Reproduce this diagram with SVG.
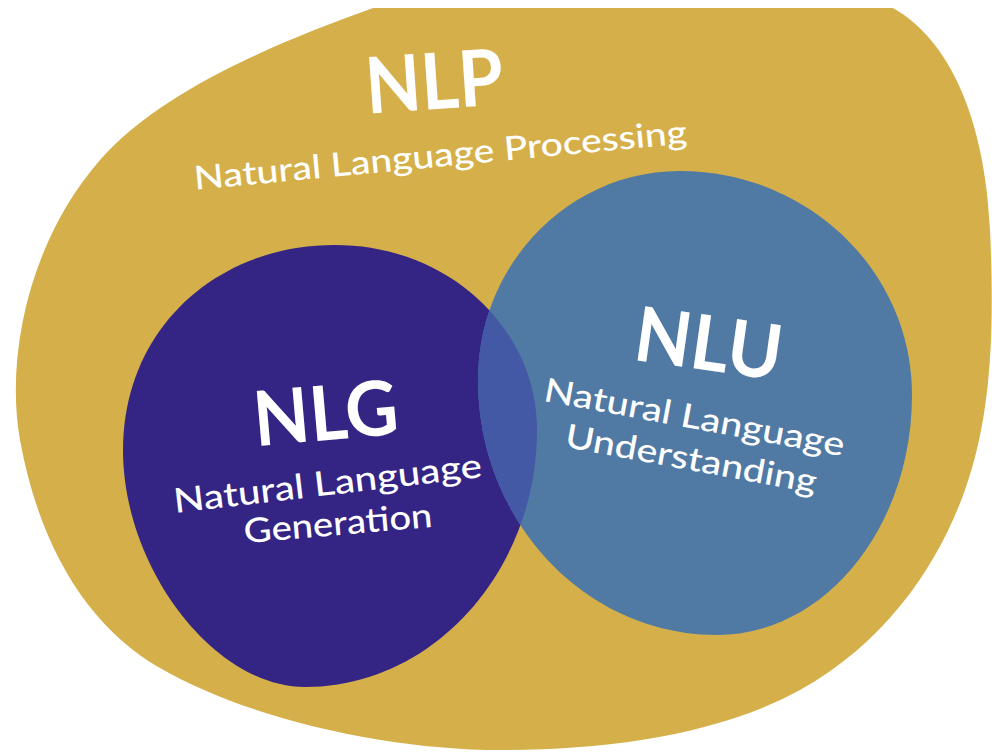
<svg xmlns="http://www.w3.org/2000/svg" width="992" height="753" viewBox="0 0 992 753">
<defs>
<style>
.title{font-family:Lato,"Noto Sans","Liberation Sans",sans-serif;font-weight:700;fill:#ffffff;text-anchor:middle}
.sub{font-family:Lato,"Noto Sans","Liberation Sans",sans-serif;font-weight:500;fill:#ffffff;text-anchor:middle}
</style>
<path id="nlgShape" d="M335,245 C448,245 537,328 537,430 C537,571 433,687 305,687 C214,687 123,568 123,450 C123,330 215,245 335,245 Z"/>
<path id="nluShape" d="M680,171 C808,171 912,271 912,395 C912,527 825,635 717,635 C585,635 478,521 478,380 C478,265 568,171 680,171 Z"/>
<clipPath id="clipNLU"><use href="#nluShape"/></clipPath>
</defs>
<rect width="992" height="753" fill="#ffffff"/>
<g id="nlp">
<path d="M373,8 L893,8 C950,40 985,120 990,230 C995,340 990,420 965,490 C940,560 890,640 800,690 C720,734 610,750 500,750 C390,750 250,720 160,668 C90,628 40,550 20,440 C5,355 30,240 100,160 C160,92 270,45 373,8 Z" fill="#D5B04A"/>
<text class="title" font-size="78" textLength="138" lengthAdjust="spacingAndGlyphs" transform="translate(436,109) rotate(-4)">NLP</text>
<text class="sub" font-size="33" textLength="495" lengthAdjust="spacingAndGlyphs" transform="translate(441.5,166.5) rotate(-5.4)">Natural Language Processing</text>
</g>
<g id="nlg">
<use href="#nlgShape" fill="#342484"/>
</g>
<g id="nlu">
<use href="#nluShape" fill="#507AA4"/>
</g>
<g id="overlap">
<use href="#nlgShape" fill="#4459A5" clip-path="url(#clipNLU)"/>
</g>
<g id="nlg-labels">
<text class="title" font-size="76" textLength="145" lengthAdjust="spacingAndGlyphs" transform="translate(328,440) rotate(-5)">NLG</text>
<text class="sub" font-size="34" textLength="310" lengthAdjust="spacingAndGlyphs" transform="translate(329,495) rotate(-6.7)">Natural Language</text>
<text class="sub" font-size="34" textLength="189" lengthAdjust="spacingAndGlyphs" transform="translate(339,535) rotate(-5)">Generation</text>
</g>
<g id="nlu-labels">
<text class="title" font-size="76" textLength="148" lengthAdjust="spacingAndGlyphs" transform="translate(705,370) rotate(8)">NLU</text>
<text class="sub" font-size="33" textLength="305" lengthAdjust="spacingAndGlyphs" transform="translate(692.5,428.5) rotate(10.5)">Natural Language</text>
<text class="sub" font-size="33" textLength="255" lengthAdjust="spacingAndGlyphs" transform="translate(689,470) rotate(10.5)">Understanding</text>
</g>
<g id="connectors"/>
</svg>
